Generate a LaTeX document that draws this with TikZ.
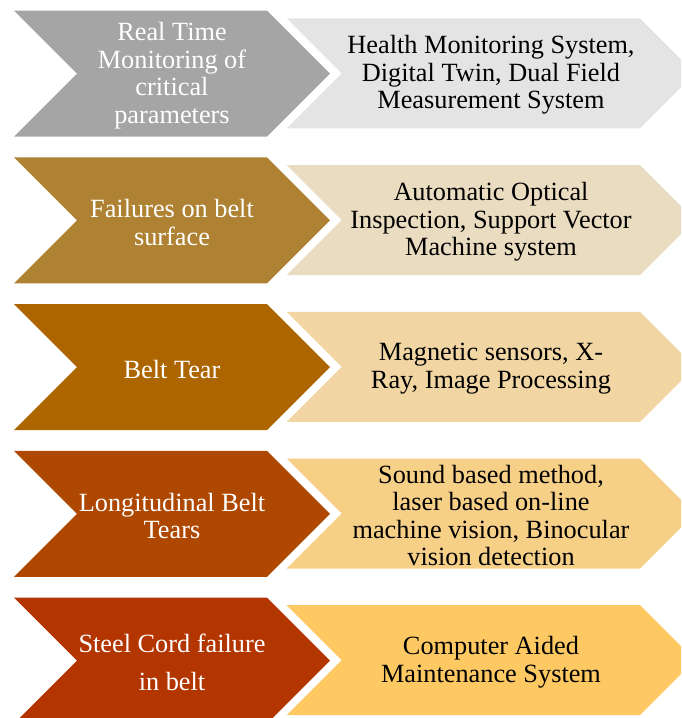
\documentclass[tikz,border=0pt]{standalone}
\usepackage{fontspec}
\setmainfont{Liberation Serif}
\definecolor{dkA}{HTML}{A5A5A5}
\definecolor{ltA}{HTML}{E4E4E4}
\definecolor{dkB}{HTML}{AE8232}
\definecolor{ltB}{HTML}{EADCC0}
\definecolor{dkC}{HTML}{AD6500}
\definecolor{ltC}{HTML}{F1D6A4}
\definecolor{dkD}{HTML}{AE4800}
\definecolor{ltD}{HTML}{F7D088}
\definecolor{dkE}{HTML}{B33500}
\definecolor{ltE}{HTML}{FEC962}
\begin{document}
\begin{tikzpicture}[x=1pt,y=-1pt,
  lefttext/.style={text=white, align=center, inner sep=0pt,
    font=\fontsize{26.3}{27.5}\selectfont},
  righttext/.style={text=black, align=center, inner sep=0pt,
    font=\fontsize{26.3}{27.5}\selectfont}]
\clip (0,0) rectangle (681,718);
% chevron pairs: dark notched arrow on the left, light arrow on the right
\foreach \t/\dk/\lt in {10.7/dkA/ltA, 157.4/dkB/ltB, 304.1/dkC/ltC,
                        450.8/dkD/ltD, 597.5/dkE/ltE}{
  \fill[\dk] (14,\t) -- (267,\t) -- (330,\t+63) -- (267,\t+126)
             -- (14,\t+126) -- (77,\t+63) -- cycle;
  \fill[\lt] (286.7,\t+7.7) -- (640,\t+7.7) -- (695,\t+62.7)
             -- (640,\t+117.7) -- (286.7,\t+117.7) -- (341.7,\t+62.7) -- cycle;
}
% labels
\node[lefttext] (l1) at (172,75.7) {Real Time\\Monitoring of\\critical\\parameters};
\node[lefttext] (l2) at (172,222.4) {Failures on belt\\surface};
\node[lefttext] (l3) at (172,369.1) {Belt Tear};
\node[lefttext] (l4) at (172,515.8) {Longitudinal Belt\\Tears};
\node[lefttext, font=\fontsize{26.3}{38}\selectfont] (l5) at (172,662) {Steel Cord failure\\in belt};
\node[righttext] (r1) at (491,75.2) {Health Monitoring System,\\Digital Twin, Dual Field\\Measurement System};
\node[righttext] (r2) at (491,221.9) {Automatic Optical\\Inspection, Support Vector\\Machine system};
\node[righttext] (r3) at (491,368.6) {Magnetic sensors, X-\\Ray, Image Processing};
\node[righttext] (r4) at (491,515.3) {Sound based method,\\laser based on-line\\machine vision, Binocular\\vision detection};
\node[righttext] (r5) at (491,662) {Computer Aided\\Maintenance System};
\end{tikzpicture}
\end{document}
